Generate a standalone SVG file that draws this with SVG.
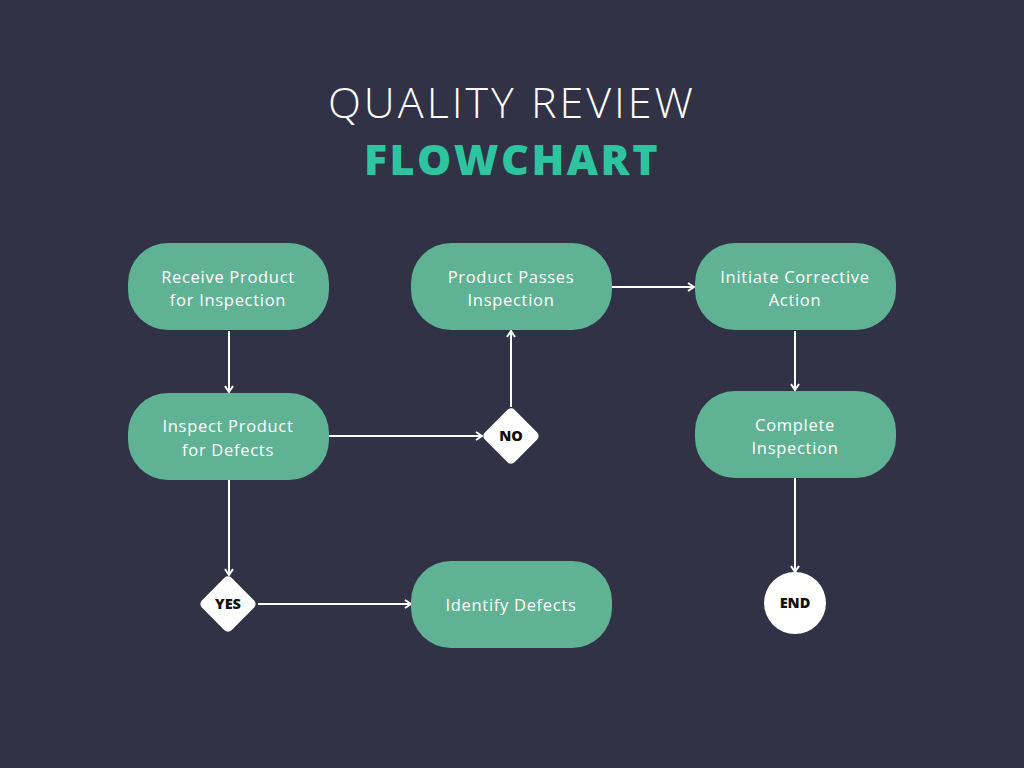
<svg xmlns="http://www.w3.org/2000/svg" width="1024" height="768" viewBox="0 0 1024 768">
  <defs>
    <style>
      .node rect { fill: #5fb394; }
      .label { font-family: "Open Sans", Lato, sans-serif; font-size: 16.5px; fill: #ffffff; text-anchor: middle; letter-spacing: 0.7px; }
      .tag { font-family: "Open Sans", Lato, sans-serif; font-size: 14.5px; font-weight: 800; fill: #111111; text-anchor: middle; }
      .edge { stroke: #ffffff; stroke-width: 2; fill: none; marker-end: url(#arrow); }
      .title1 { font-family: "Open Sans", Lato, sans-serif; font-size: 43px; font-weight: 300; fill: #ffffff; text-anchor: middle; letter-spacing: 3px; }
      .title2 { font-family: "Open Sans", Lato, sans-serif; font-size: 43px; font-weight: 800; fill: #2ec4a0; text-anchor: middle; letter-spacing: 2.5px; }
    </style>
    <marker id="arrow" viewBox="0 0 10 10" refX="9" refY="5" markerWidth="10" markerHeight="10" markerUnits="userSpaceOnUse" orient="auto">
      <path d="M3,1 L9,5 L3,9" fill="none" stroke="#ffffff" stroke-width="2"/>
    </marker>
  </defs>

  <rect width="1024" height="768" fill="#313245"/>

  <text class="title1" x="512" y="118">QUALITY REVIEW</text>
  <text class="title2" x="512" y="175">FLOWCHART</text>

  <g id="connectors">
    <line class="edge" x1="229" y1="331" x2="229" y2="392"/>
    <line class="edge" x1="329" y1="436" x2="482" y2="436"/>
    <line class="edge" x1="511" y1="407" x2="511" y2="331"/>
    <line class="edge" x1="612" y1="287" x2="694" y2="287"/>
    <line class="edge" x1="795" y1="331" x2="795" y2="390"/>
    <line class="edge" x1="795" y1="478" x2="795" y2="572"/>
    <line class="edge" x1="229" y1="480" x2="229" y2="575"/>
    <line class="edge" x1="258" y1="604" x2="411" y2="604"/>
  </g>

  <g id="receive" class="node">
    <rect x="128" y="243" width="201" height="87" rx="40"/>
    <text class="label" x="228" y="283">Receive Product</text>
    <text class="label" x="228" y="306">for Inspection</text>
  </g>

  <g id="inspect" class="node">
    <rect x="128" y="393" width="201" height="87" rx="40"/>
    <text class="label" x="228" y="432">Inspect Product</text>
    <text class="label" x="228" y="456">for Defects</text>
  </g>

  <g id="passes" class="node">
    <rect x="411" y="243" width="201" height="87" rx="40"/>
    <text class="label" x="511" y="283">Product Passes</text>
    <text class="label" x="511" y="306">Inspection</text>
  </g>

  <g id="corrective" class="node">
    <rect x="695" y="243" width="201" height="87" rx="40"/>
    <text class="label" x="795" y="283">Initiate Corrective</text>
    <text class="label" x="795" y="306">Action</text>
  </g>

  <g id="complete" class="node">
    <rect x="695" y="391" width="201" height="87" rx="40"/>
    <text class="label" x="795" y="431">Complete</text>
    <text class="label" x="795" y="454">Inspection</text>
  </g>

  <g id="identify" class="node">
    <rect x="411" y="561" width="201" height="87" rx="40"/>
    <text class="label" x="511" y="611">Identify Defects</text>
  </g>

  <g id="no">
    <rect x="490" y="415" width="42" height="42" rx="5" fill="#ffffff" transform="rotate(45 511 436)"/>
    <text class="tag" x="511" y="441">NO</text>
  </g>

  <g id="yes">
    <rect x="207" y="583" width="42" height="42" rx="5" fill="#ffffff" transform="rotate(45 228 604)"/>
    <text class="tag" x="228" y="609">YES</text>
  </g>

  <g id="end">
    <circle cx="795" cy="603" r="31" fill="#ffffff"/>
    <text class="tag" x="795" y="608">END</text>
  </g>
</svg>
